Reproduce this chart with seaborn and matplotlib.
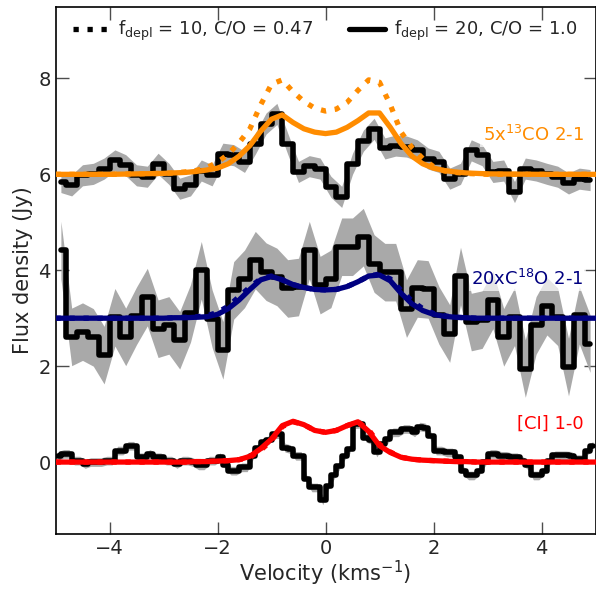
import numpy as np
import pandas as pd
import matplotlib
matplotlib.use("Agg")
import matplotlib.pyplot as plt
import seaborn as sns

# ---------------- data ----------------
# channel centres (km/s)
v_co = np.round(np.arange(-4.9, 5.0, 0.2), 2)      # 13CO and C18O channels
v_ci = np.round(np.arange(-4.95, 5.0, 0.1), 2)     # [CI] channels

co13_obs = [5.84, 5.77, 5.98, 6.01, 6.12, 6.29, 6.19, 5.98, 5.95, 6.22,
            6.01, 5.70, 5.77, 6.08, 5.98, 6.43, 6.40, 6.26, 6.64, 7.06,
            7.26, 6.64, 6.05, 6.17, 6.12, 5.74, 5.53, 6.22, 6.70, 6.95,
            6.54, 6.60, 6.58, 6.50, 6.33, 6.26, 5.91, 6.01, 6.50, 6.40,
            6.05, 6.08, 5.63, 6.12, 6.08, 6.01, 5.95, 5.81, 5.91, 5.88]
co13_err = 0.22

c18o_obs = [4.42, 2.61, 2.72, 2.60, 2.23, 3.02, 2.61, 3.05, 3.44, 2.78,
            2.85, 2.54, 3.10, 4.00, 2.99, 2.33, 3.58, 3.82, 4.21, 3.97,
            3.86, 3.62, 3.65, 4.42, 3.69, 3.82, 4.49, 4.49, 4.69, 4.14,
            3.96, 3.96, 3.20, 3.62, 3.60, 3.06, 2.68, 3.88, 2.92, 2.97,
            3.38, 2.60, 3.03, 1.95, 2.85, 3.25, 3.03, 1.98, 3.06, 2.47]
c18o_err = 0.6

ci_obs = [0.13, 0.17, 0.17, 0.03, 0.03, -0.04, 0.00, 0.00, 0.00, 0.03,
          0.03, 0.24, 0.24, 0.34, 0.34, 0.10, 0.10, 0.17, 0.10, 0.10,
          0.03, 0.03, -0.04, 0.03, 0.03, 0.00, -0.07, -0.07, 0.03, 0.03,
          0.10, -0.07, -0.18, -0.18, -0.11, -0.11, 0.13, 0.30, 0.41, 0.46,
          0.58, 0.58, 0.30, 0.27, 0.13, 0.13, -0.36, -0.53, -0.53, -0.80,
          -0.49, -0.28, -0.08, 0.13, 0.27, 0.79, 0.80, 0.51, 0.46, 0.20,
          0.37, 0.48, 0.62, 0.62, 0.69, 0.69, 0.62, 0.74, 0.72, 0.55,
          0.24, 0.24, 0.20, 0.20, 0.10, -0.18, -0.28, -0.28, -0.18, 0.00,
          0.17, 0.17, 0.13, 0.13, 0.10, 0.10, 0.03, -0.07, -0.28, -0.28,
          -0.18, 0.03, 0.14, 0.14, 0.14, 0.13, 0.06, 0.06, 0.24, 0.34]
ci_err = 0.09

# model velocity grid (km/s)
v_model = [-5.0, -4.0, -3.0, -2.8, -2.6, -2.4, -2.2, -2.0, -1.8, -1.6, -1.4,
           -1.2, -1.0, -0.8, -0.6, -0.4, -0.2, 0.0, 0.2, 0.4, 0.6, 0.8, 1.0,
           1.2, 1.4, 1.6, 1.8, 2.0, 2.2, 2.4, 2.6, 2.8, 3.0, 4.0, 5.0]

# f_depl = 10, C/O = 0.47 (dotted)
co13_mod10 = [6.0, 6.0, 6.02, 6.03, 6.05, 6.08, 6.14, 6.25, 6.42, 6.66, 6.95,
              7.45, 7.88, 7.97, 7.72, 7.52, 7.38, 7.32, 7.36, 7.50, 7.75, 7.97,
              7.92, 7.45, 6.88, 6.56, 6.33, 6.16, 6.07, 6.04, 6.02, 6.01, 6.0,
              6.0, 6.0]
c18o_mod10 = [3.0, 3.0, 3.0, 3.01, 3.02, 3.03, 3.05, 3.12, 3.25, 3.45, 3.65,
              3.82, 3.88, 3.80, 3.70, 3.64, 3.60, 3.59, 3.60, 3.66, 3.76, 3.88,
              3.92, 3.82, 3.58, 3.36, 3.20, 3.10, 3.05, 3.02, 3.01, 3.0, 3.0,
              3.0, 3.0]
ci_mod10 = [0.0, 0.0, 0.0, 0.0, 0.0, 0.01, 0.01, 0.02, 0.03, 0.05, 0.10,
            0.25, 0.45, 0.74, 0.84, 0.78, 0.66, 0.62, 0.66, 0.76, 0.84, 0.67,
            0.37, 0.21, 0.10, 0.06, 0.04, 0.03, 0.02, 0.01, 0.01, 0.0, 0.0,
            0.0, 0.0]

# f_depl = 20, C/O = 1.0 (solid)
co13_mod20 = [6.0, 6.0, 6.02, 6.03, 6.04, 6.06, 6.09, 6.13, 6.22, 6.38, 6.60,
              6.90, 7.15, 7.24, 7.08, 6.95, 6.88, 6.85, 6.88, 6.98, 7.12, 7.28,
              7.28, 6.98, 6.64, 6.38, 6.22, 6.13, 6.08, 6.05, 6.03, 6.02, 6.01,
              6.0, 6.0]
c18o_mod20 = [3.0, 3.0, 3.0, 3.01, 3.01, 3.02, 3.03, 3.08, 3.20, 3.38, 3.60,
              3.80, 3.87, 3.80, 3.70, 3.64, 3.60, 3.59, 3.60, 3.66, 3.76, 3.88,
              3.90, 3.78, 3.52, 3.30, 3.16, 3.08, 3.04, 3.02, 3.01, 3.0, 3.0,
              3.0, 3.0]
ci_mod20 = [0.0, 0.0, 0.0, 0.0, 0.0, 0.01, 0.01, 0.02, 0.03, 0.05, 0.12,
            0.28, 0.48, 0.76, 0.85, 0.78, 0.66, 0.62, 0.66, 0.76, 0.84, 0.64,
            0.34, 0.20, 0.10, 0.06, 0.04, 0.03, 0.02, 0.01, 0.01, 0.0, 0.0,
            0.0, 0.0]

line_labels = ["5x$^{13}$CO 2-1", "20xC$^{18}$O 2-1", "[CI] 1-0"]
line_colors = ["darkorange", "navy", "red"]
label_y = [6.82, 3.82, 0.80]
legend_labels = [r"f$_{\rm depl}$ = 10, C/O = 0.47",
                 r"f$_{\rm depl}$ = 20, C/O = 1.0"]

# ---------------- plot ----------------
sns.set_style("ticks")
plt.rcParams["font.family"] = ["DejaVu Sans"]
plt.rcParams["mathtext.fontset"] = "dejavusans"

fig = plt.figure(figsize=(5.96, 5.89), dpi=100)
ax = fig.add_axes([55.5 / 596, 55 / 589, 540 / 596, 527.5 / 589])

spectra = [(v_co, co13_obs, co13_err), (v_co, c18o_obs, c18o_err),
           (v_ci, ci_obs, ci_err)]
models10 = [co13_mod10, c18o_mod10, ci_mod10]
models20 = [co13_mod20, c18o_mod20, ci_mod20]

lw_obs = 4.0
lw_mod = 3.8
for (vv, obs, err), m10, m20, col, lab, ly in zip(spectra, models10, models20,
                                                   line_colors, line_labels, label_y):
    obs = np.asarray(obs)
    ax.fill_between(vv, obs - err, obs + err, color="darkgray", lw=0, zorder=1)
    df = pd.DataFrame({"v": vv, "flux": obs})
    sns.lineplot(data=df, x="v", y="flux", ax=ax, color="black", lw=lw_obs,
                 drawstyle="steps-mid", estimator=None, sort=False, zorder=2)
    dm = pd.DataFrame({"v": v_model, "m10": m10, "m20": m20})
    sns.lineplot(data=dm, x="v", y="m20", ax=ax, color=col, lw=lw_mod,
                 estimator=None, sort=False, zorder=3)
    sns.lineplot(data=dm, x="v", y="m10", ax=ax, color=col, lw=lw_mod,
                 linestyle=":", estimator=None, sort=False, zorder=3)
    ax.text(4.78, ly, lab, color=col, fontsize=13, ha="right", va="center",
            zorder=5,
            bbox=dict(facecolor="white", alpha=0.7, edgecolor="none", pad=1.5))

# legend proxies
h1, = ax.plot([], [], color="black", lw=lw_mod, linestyle=":")
h2, = ax.plot([], [], color="black", lw=lw_mod, linestyle="-")
ax.legend([h1, h2], legend_labels, loc="upper center", ncol=2, frameon=False,
          fontsize=13, handlelength=2.0, handletextpad=0.5, columnspacing=2.0,
          borderaxespad=0.3)

ax.set_xlim(-5, 5)
ax.set_ylim(-1.5, 9.5)
ax.set_xticks([-4, -2, 0, 2, 4])
ax.set_yticks([0, 2, 4, 6, 8])
ax.set_xlabel("Velocity (kms$^{-1}$)", fontsize=15, labelpad=1)
ax.set_ylabel("Flux density (Jy)", fontsize=15)
ax.tick_params(direction="in", length=9, width=1, top=True, right=True,
               labelsize=14, color="0.3")
for s in ax.spines.values():
    s.set_color("black")
    s.set_linewidth(1.2)

fig.savefig("out.png", dpi=100)
